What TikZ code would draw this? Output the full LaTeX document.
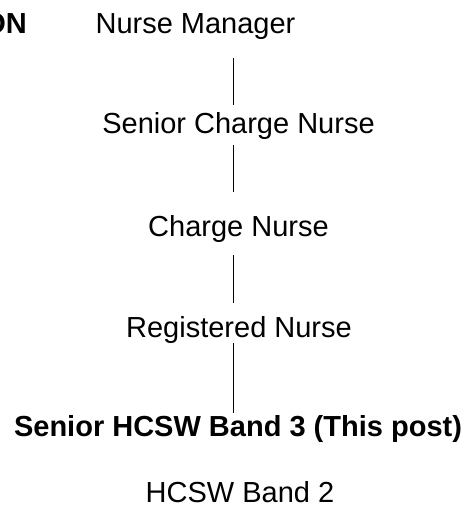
\documentclass[tikz,border=0pt]{standalone}
\usepackage{fontspec}
\setmainfont{Liberation Sans}
\usetikzlibrary{calc}
\begin{document}
\begin{tikzpicture}[x=1pt,y=1pt,
  lbl/.style={inner sep=0pt, anchor=base, text height=21pt, text depth=6pt, font=\fontsize{29}{34}\selectfont},
  blbl/.style={lbl, font=\fontsize{29}{34}\selectfont\bfseries},
  link/.style={line width=1pt}]
\useasboundingbox (0,0) rectangle (468,-506);
\coordinate (spine) at (233,0);
\begin{scope}
\clip (0,0) rectangle (468,-506);
\node[blbl, anchor=base east, overlay] (on) at (27,-33) {ON};
\end{scope}
\node[lbl] (nm) at (195.5,-33) {Nurse Manager};
\node[lbl] (scn) at (238.5,-133) {Senior Charge Nurse};
\node[lbl] (cn) at (238.5,-236) {Charge Nurse};
\node[lbl] (rn) at (239,-337) {Registered Nurse};
\node[blbl] (sh) at (238,-436) {Senior HCSW Band 3 (This post)};
\node[lbl] (hb) at (240,-502) {HCSW Band 2};
\draw[link] ($(nm.south -| spine)+(0,-19)$) -- ($(scn.north -| spine)+(0,7)$);
\draw[link] ($(scn.south -| spine)+(0,-6)$) -- ($(cn.north -| spine)+(0,23)$);
\draw[link] ($(cn.south -| spine)+(0,-13)$) -- ($(rn.north -| spine)+(0,13)$);
\draw[link] (rn.south -| spine) -- ($(sh.north -| spine)+(0,2)$);
\end{tikzpicture}
\end{document}
